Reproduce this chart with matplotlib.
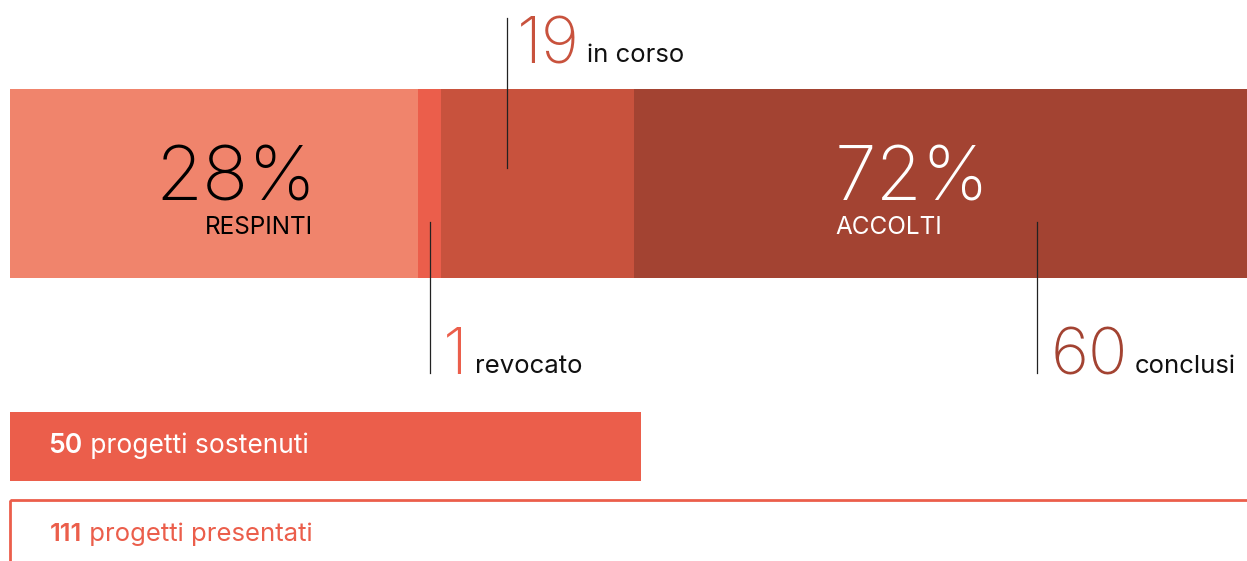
import matplotlib
matplotlib.use("Agg")
import matplotlib.pyplot as plt
from matplotlib.patches import Rectangle

plt.rcParams['font.family'] = ['Inter', 'DejaVu Sans']

# dati
categorie = ['respinti', 'revocato', 'in corso', 'conclusi']
conteggi = [31, 1, 19, 60]
# larghezza dei segmenti (% della barra)
quote = [33.0, 1.86, 15.6, 49.54]
colori = ['#F0846C', '#EB5E4B', '#C8523D', '#A34332']
percentuali = [28, 72]
sostenuti = 50
presentati = 111
quota_sostenuti = 51.0   # larghezza barra sostenuti (% della barra piena)

W, H = 1247, 561
fig = plt.figure(figsize=(W / 100, H / 100), dpi=100)
ax = fig.add_axes([0, 0, 1, 1])
scala = 12.37  # px per unita'
ax.set_xlim(-10 / scala, (W - 10) / scala)
ax.set_ylim(H, 0)
ax.axis('off')

# barra impilata
left = 0
for q, c in zip(quote, colori):
    ax.barh(183.5, q, left=left, height=189, color=c, linewidth=0)
    left += q

renderer = fig.canvas.get_renderer()
inv = ax.transData.inverted()

# percentuali dentro la barra
ax.text(24.75, 200, f"{percentuali[0]}%", fontsize=55, fontweight='light',
        color='black', ha='right', va='baseline')
ax.text(24.5, 234, "RESPINTI", fontsize=17.5, color='black', ha='right', va='baseline')
ax.text(66.7, 200, f"{percentuali[1]}%", fontsize=54, fontweight='light',
        color='white', ha='left', va='baseline')
ax.text(66.7, 234, "ACCOLTI", fontsize=17.5, color='white', ha='left', va='baseline')

# etichette con linee guida: (x linea, y1, y2, x numero, baseline)
guide = {
    'in corso': (40.2, 18, 168, 41.0, 63),
    'revocato': (33.95, 222, 373, 35.0, 374),
    'conclusi': (83.0, 222, 373, 84.1, 374),
}

for cat, n, c in zip(categorie, conteggi, colori):
    if cat not in guide:
        continue
    xl, y1, y2, xn, yb = guide[cat]
    ax.plot([xl, xl], [y1, y2], color='#222222', lw=0.9)
    t = ax.text(xn, yb, str(n), fontsize=47, fontweight='light', color=c,
                ha='left', va='baseline')
    bb = t.get_window_extent(renderer)
    xr = inv.transform((bb.x1, bb.y0))[0]
    ax.text(xr + 0.55, yb - 1, cat, fontsize=18.5, color='#111111',
            ha='left', va='baseline')

# barre inferiori
ax.barh(446.5, quota_sostenuti, left=0, height=69, color='#EB5E4B', linewidth=0)
ax.add_patch(Rectangle((0, 499.5), 102, 80, fill=False, edgecolor='#EB5E4B', lw=2))

def riga(x, y, numero, testo, colore, fs):
    t = ax.text(x, y, str(numero), fontsize=fs, fontweight='semibold', color=colore,
                ha='left', va='baseline')
    bb = t.get_window_extent(renderer)
    xr = inv.transform((bb.x1, bb.y0))[0]
    ax.text(xr, y, " " + testo, fontsize=fs, color=colore, ha='left', va='baseline')

riga(3.1, 453, sostenuti, "progetti sostenuti", 'white', 19)
riga(3.2, 541, presentati, "progetti presentati", '#EB5E4B', 18.5)

fig.savefig("out.png", dpi=100)
